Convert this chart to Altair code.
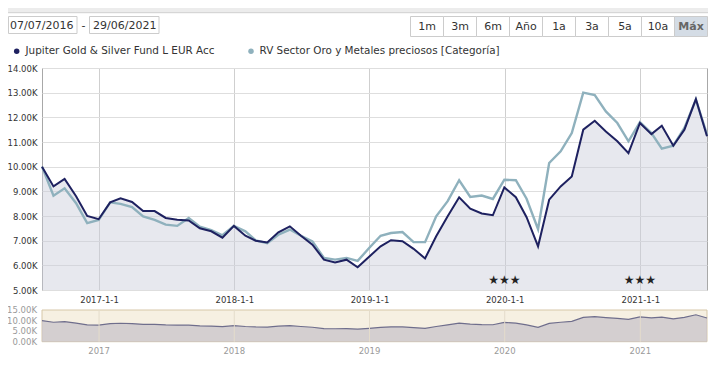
import calendar
import altair as alt
import pandas as pd

# ---------------- data (values in thousands) ----------------
fund = [10.0, 9.2, 9.5, 8.8, 8.0, 7.87, 8.55, 8.72, 8.57, 8.2, 8.2, 7.92,
        7.85, 7.82, 7.5, 7.38, 7.12, 7.6, 7.2, 7.0, 6.93, 7.34, 7.58, 7.2,
        6.84, 6.23, 6.12, 6.23, 5.92, 6.35, 6.77, 7.02, 6.98, 6.67, 6.28, 7.18,
        7.99, 8.76, 8.3, 8.1, 8.03, 9.16, 8.76, 7.95, 6.77, 8.66, 9.2, 9.6,
        11.5, 11.86, 11.43, 11.03, 10.55, 11.77, 11.32, 11.66, 10.85, 11.5, 12.74, 11.23]
category = [10.0, 8.82, 9.12, 8.52, 7.71, 7.84, 8.55, 8.49, 8.36, 7.98, 7.84, 7.65,
            7.6, 7.92, 7.57, 7.43, 7.22, 7.6, 7.38, 7.01, 6.9, 7.24, 7.45, 7.2,
            6.97, 6.3, 6.23, 6.3, 6.18, 6.7, 7.2, 7.31, 7.35, 6.94, 6.94, 7.99,
            8.6, 9.45, 8.77, 8.83, 8.69, 9.47, 9.45, 8.7, 7.47, 10.15, 10.62, 11.36,
            13.0, 12.9, 12.24, 11.77, 11.03, 11.8, 11.36, 10.73, 10.85, 11.57, 12.72, 11.3]
fund_name = "Jupiter Gold & Silver Fund L EUR Acc"
cat_name = "RV Sector Oro y Metales preciosos [Categoría]"
date_from = "07/07/2016"
date_to = "29/06/2021"
buttons = ["1m", "3m", "6m", "Año", "1a", "3a", "5a", "10a", "Máx"]
main_ticks = [5, 6, 7, 8, 9, 10, 11, 12, 13, 14]
nav_ticks = [0, 5, 10, 15]
years = [2017, 2018, 2019, 2020, 2021]
star_dates = ["2019-12-31", "2020-12-31"]
star_text = ["★★★", "★★★"]

dates = []
for i in range(len(fund)):
    y = 2016 + (6 + i) // 12
    m = (6 + i) % 12 + 1
    d = calendar.monthrange(y, m)[1]
    dates.append(f"{y:04d}-{m:02d}-{d:02d}")

df = pd.DataFrame({"date": dates, "fund": fund, "cat": category})
year_df = pd.DataFrame({"date": [f"{y}-01-01" for y in years], "label": [str(y) for y in years]})
nav_df = pd.DataFrame({"v": nav_ticks, "label": [f"{v:.2f}K" for v in nav_ticks]})
star_df = pd.DataFrame({"date": star_dates, "label": star_text})
one = pd.DataFrame({"a": [0]})

# ---------------- layout ----------------
W, H = 665, 222
FONT = "DejaVu Sans"
DARK = "#1e2160"
LIGHT = "#8fb1bd"
YMIN, YMAX = 5, 14


def px(x):
    return x - 42


def py(y):
    return y - 68


NAV_TOP, NAV_BOT = py(310), py(341.7)
# navigator band expressed in the main value scale (0..15K mapped into it)
per_px = (YMAX - YMIN) / H
NAV_BASE = YMAX - NAV_BOT * per_px
NAV_K = (NAV_BOT - NAV_TOP) * per_px / 15.0
nav_expr = f"{NAV_BASE} + datum.{{}} * {NAV_K}"

xdom = alt.Scale(domain=[alt.DateTime(year=2016, month=7, date=31),
                         alt.DateTime(year=2021, month=6, date=30)])
x_axis = alt.Axis(values=[alt.DateTime(year=y, month=1, date=1) for y in years],
                  labelExpr="timeFormat(datum.value, '%Y') + '-1-1'", title=None,
                  grid=True, gridColor="#cfcfcf",
                  domain=False, ticks=False, labelPadding=5, labelFontSize=8.5,
                  labelColor="#333333", labelFont=FONT)
y_scale = alt.Scale(domain=[YMIN, YMAX], zero=False, nice=False)
y_axis = alt.Axis(values=main_ticks, labelExpr="format(datum.value, '.2f') + 'K'",
                  title=None, grid=True, gridColor="#dedede", domain=False, ticks=False,
                  labelPadding=5, labelFontSize=8.5, labelColor="#333333", labelFont=FONT)

X = alt.X("date:T", scale=xdom, axis=x_axis)


def Y(field):
    return alt.Y(f"{field}:Q", scale=y_scale, axis=y_axis)


area = alt.Chart(df).mark_area(color="#c9cbd9", opacity=0.45).encode(
    x=X, y=Y("fund"), y2=alt.datum(YMIN))
line_fund = alt.Chart(df).mark_line(color=DARK, strokeWidth=2).encode(x=X, y=Y("fund"))
line_cat = alt.Chart(df).mark_line(color=LIGHT, strokeWidth=2.4).encode(x=X, y=Y("cat"))
stars = alt.Chart(star_df).mark_text(font=FONT, fontSize=12, color="#222222").encode(
    x=X, y=alt.value(py(280)), text="label:N")

# ---------------- navigator ----------------
nav_bg = alt.Chart(one).mark_rect(fill="#f6f0e2", stroke="#d6c7a8", strokeWidth=1).encode(
    x=alt.value(0), x2=alt.value(W), y=alt.value(NAV_TOP), y2=alt.value(NAV_BOT))
nav_grid = alt.Chart(year_df).mark_rule(color="#e4dccb", strokeWidth=1).encode(
    x=X, y=alt.value(NAV_TOP), y2=alt.value(NAV_BOT))
nav_area = alt.Chart(df).transform_calculate(ny=nav_expr.format("fund")).mark_area(
    color="#c6c0c9", line={"color": "#6f6e8c", "strokeWidth": 1.2}).encode(
    x=X, y=Y("ny"), y2=alt.datum(NAV_BASE))
nav_labels = alt.Chart(nav_df).transform_calculate(ny=nav_expr.format("v")).mark_text(
    font=FONT, fontSize=8.5, color="#9a9a9a", align="right").encode(
    x=alt.value(-5), y=Y("ny"), text="label:N")
nav_years = alt.Chart(year_df).mark_text(font=FONT, fontSize=8.5, color="#9a9a9a").encode(
    x=X, y=alt.value(py(351)), text="label:N")

# ---------------- header widgets ----------------
hdr = []
hdr.append(alt.Chart(one).mark_rect(fill="#ececec").encode(
    x=alt.value(px(8)), x2=alt.value(px(708)), y=alt.value(py(8)), y2=alt.value(py(12.7))))
hdr.append(alt.Chart(one).mark_rule(color="#cfcfcf").encode(
    x=alt.value(px(8)), x2=alt.value(px(708)), y=alt.value(py(12.7))))


def box(x0, x1, y0, y1, fill="white", stroke="#cccccc"):
    return alt.Chart(one).mark_rect(fill=fill, stroke=stroke, strokeWidth=1).encode(
        x=alt.value(px(x0)), x2=alt.value(px(x1)), y=alt.value(py(y0)), y2=alt.value(py(y1)))


def label(txt, x, y, align="left", size=11, color="#333333", weight="normal"):
    return alt.Chart(one).mark_text(text=txt, font=FONT, fontSize=size, color=color,
                                    align=align, baseline="middle", fontWeight=weight).encode(
        x=alt.value(px(x)), y=alt.value(py(y)))


hdr.append(box(8.5, 77, 16.5, 33.5))
hdr.append(label(date_from, 10, 25.5))
hdr.append(label("-", 83.5, 25.5, align="center"))
hdr.append(box(89.5, 159, 16.5, 33.5))
hdr.append(label(date_to, 93, 25.5))

bx0, bstep = 410.5, 33.0
for k, b in enumerate(buttons):
    x0 = bx0 + k * bstep
    x1 = min(x0 + bstep, 707.5)
    last = b == buttons[-1]
    hdr.append(box(x0, x1, 16.5, 36.5, fill="#d4dce5" if last else "white"))
    hdr.append(label(b, (x0 + x1) / 2, 26.5, align="center",
                     color="#666666" if last else "#333333",
                     weight="bold" if last else "normal"))

hdr.append(alt.Chart(one).mark_circle(color=DARK, size=30, opacity=1).encode(
    x=alt.value(px(16.7)), y=alt.value(py(51.3))))
hdr.append(label(fund_name, 25.5, 51, size=10.4))
hdr.append(alt.Chart(one).mark_circle(color=LIGHT, size=30, opacity=1).encode(
    x=alt.value(px(251)), y=alt.value(py(51.3))))
hdr.append(label(cat_name, 259.5, 51, size=10.4))

chart = alt.layer(area, line_cat, line_fund, stars,
                  nav_bg, nav_area, nav_grid, nav_labels, nav_years,
                  *hdr).properties(
    width=W, height=H,
    autosize=alt.AutoSizeParams(type="none"),
    padding={"left": 34, "top": 60, "right": 1, "bottom": 70},
    background="white",
).configure_view(stroke="#a8a8a8", strokeWidth=1)

chart.save("out.html", embed_options={"renderer": "svg", "actions": False})
